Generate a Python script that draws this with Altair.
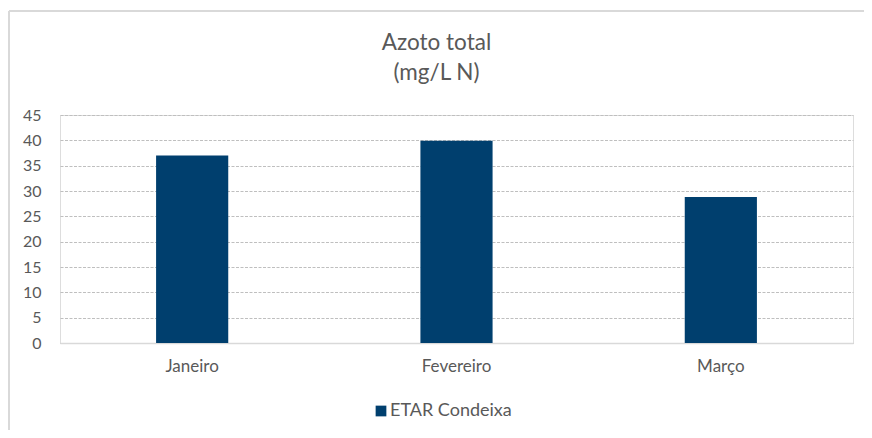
import altair as alt
import pandas as pd

months = ["Janeiro", "Fevereiro", "Março"]
values = [37.0, 39.9, 28.8]
series = ["ETAR Condeixa", "ETAR Condeixa", "ETAR Condeixa"]
y_ticks = [0, 5, 10, 15, 20, 25, 30, 35, 40, 45]

df = pd.DataFrame({"Mês": months, "Valor": values, "Série": series})

TEXT = "#595959"
FONT = "Lato"

bars = alt.Chart(df).mark_bar(color="#003F6E").encode(
    x=alt.X(
        "Mês:N",
        sort=months,
        scale=alt.Scale(paddingInner=0.727, paddingOuter=0.3635),
        axis=alt.Axis(
            title=None, labelAngle=0, labelFontSize=17, labelColor=TEXT, labelFont=FONT,
            ticks=False, domain=True, domainColor="#D9D9D9", domainWidth=1.5,
            labelPadding=15, grid=False,
        ),
    ),
    y=alt.Y(
        "Valor:Q",
        scale=alt.Scale(domain=[0, 45], nice=False),
        axis=alt.Axis(
            title=None, values=y_ticks, labelFontSize=16, labelColor=TEXT, labelFont=FONT,
            ticks=False, domain=False, labelPadding=19, grid=True,
            gridColor="#BFBFBF", gridDash=[3, 1.5], gridWidth=1,
        ),
    ),
    color=alt.Color(
        "Série:N",
        scale=alt.Scale(range=["#003F6E"]),
        legend=alt.Legend(
            title=None, orient="none", legendX=312, legendY=287,
            symbolType="square", symbolSize=115, symbolStrokeWidth=0,
            labelFontSize=18, labelColor=TEXT, labelFont=FONT, labelOffset=0,
        ),
    ),
)

border_df = pd.DataFrame({"k": [0]})
top_line = alt.Chart(border_df).mark_rule(color="#D9D9D9", strokeWidth=2).encode(
    x=alt.value(-51), x2=alt.value(900), y=alt.value(-104)
)
left_line = alt.Chart(border_df).mark_rule(color="#D9D9D9", strokeWidth=2).encode(
    x=alt.value(-51), y=alt.value(-104), y2=alt.value(500)
)

chart = alt.layer(top_line, left_line, bars).properties(
    width=793,
    height=228,
    title=alt.TitleParams(
        text=["Azoto total", "(mg/L N)"], fontSize=22.5, font=FONT, color=TEXT,
        fontWeight="normal", anchor="middle", dx=-20, offset=-74, lineHeight=30,
    ),
    autosize=alt.AutoSizeParams(type="none"),
    padding={"left": 52, "top": 107, "right": 11, "bottom": 87},
).configure_view(stroke=None).configure(background="white")

chart.save("out.html", embed_options={"renderer": "svg", "actions": False})
